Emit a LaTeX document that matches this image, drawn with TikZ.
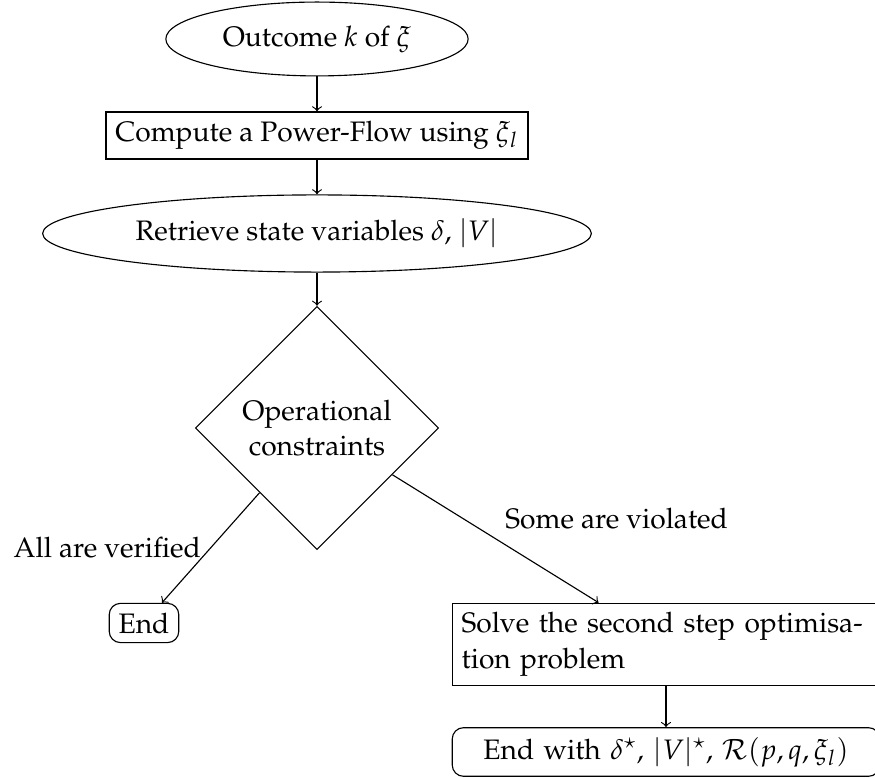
\documentclass[tikz,border=0pt]{standalone}
\usepackage[T1]{fontenc}
\usepackage{mathpazo}
\linespread{1.05}
\usetikzlibrary{shapes.geometric}
\begin{document}
\begin{tikzpicture}[x=0.355pt,y=-0.355pt,>=to,
  startstop/.style={ellipse,draw,inner sep=4.5pt},
  procbox/.style={rectangle,draw},
  decisionbox/.style={diamond,draw,align=center},
  wideproc/.style={rectangle,draw,text width=5.1cm},
  termbox/.style={rectangle,draw,rounded corners},
  widetermbox/.style={rectangle,draw,rounded corners,text width=5.1cm,align=center},
  arr/.style={->}]
\useasboundingbox (0,0) rectangle (875,778);
\clip (0,0) rectangle (875,778);
\node[startstop] (outcome) at (317,39) {Outcome $k$ of $\xi$};
\node[procbox] (pf) at (317,135.5) {Compute a Power-Flow using $\xi_l$};
\node[startstop] (retrieve) at (317,233.5) {Retrieve state variables $\delta$, $|V|$};
\node[decisionbox] (ops) at (317,428) {Operational\\constraints};
\node[termbox] (end) at (144,623) {End};
\node[wideproc] (solve) at (666,644.5) {Solve the second step optimisation problem};
\node[widetermbox] (endwith) at (666,752) {End with $\delta^\star$, $|V|^\star$, $\mathcal{R}(p,q,\xi_l)$};
\draw[arr] (outcome) -- (pf);
\draw[arr] (pf) -- (retrieve);
\draw[arr] (retrieve) -- (ops);
\draw[arr] (ops) -- node[midway,left] {All are verified} (end);
\draw[arr] (ops) -- node[midway,above right] {Some are violated} (solve);
\draw[arr] (solve) -- (endwith);
\end{tikzpicture}
\end{document}
